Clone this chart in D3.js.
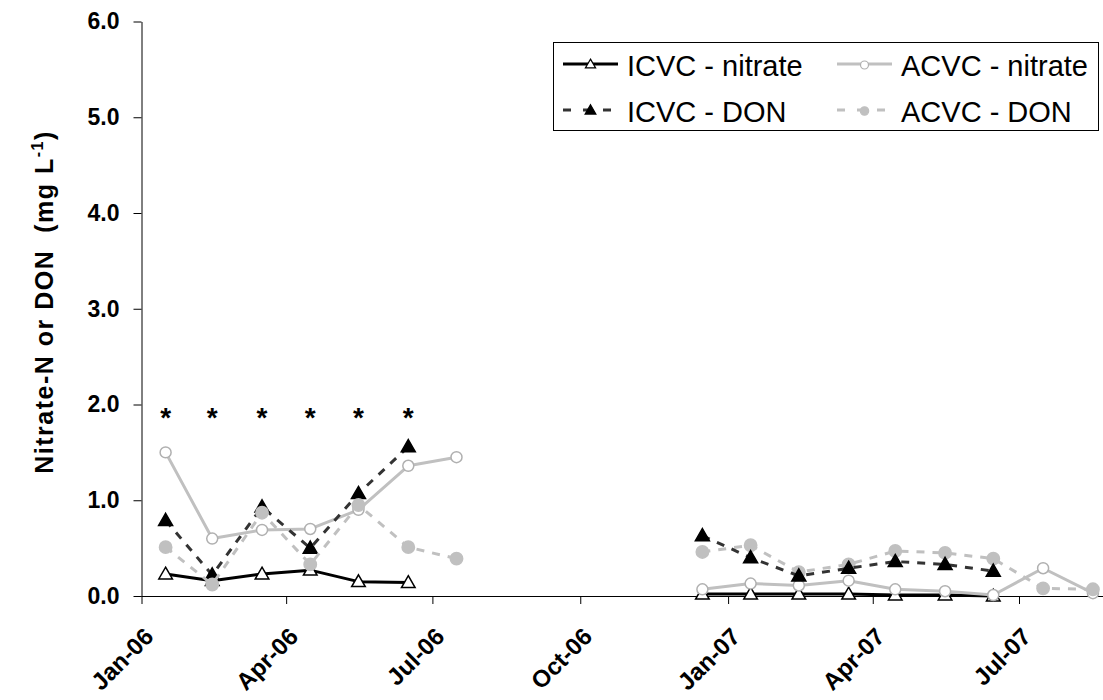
<!DOCTYPE html>
<html><head><meta charset="utf-8">
<script src="https://cdn.jsdelivr.net/npm/d3@7"></script>
<style>
  html,body{margin:0;padding:0;background:#fff;}
  svg{display:block;font-family:"Liberation Sans",Arial,sans-serif;}
</style></head>
<body>
<svg id="chart" width="1103" height="700"></svg>
<script>
// ---- data ----
const dates2006 = ["2006-01-16","2006-02-14","2006-03-17","2006-04-16","2006-05-16","2006-06-16","2006-07-16"];
const dates2007 = ["2006-12-16","2007-01-15","2007-02-14","2007-03-17","2007-04-15","2007-05-16","2007-06-15","2007-07-16","2007-08-16"];
const icvcNitrate2006 = [0.23,0.16,0.23,0.27,0.15,0.14,null];
const acvcNitrate2006 = [1.50,0.60,0.69,0.70,0.90,1.36,1.45];
const icvcDon2006     = [0.79,0.22,0.93,0.50,1.07,1.56,null];
const acvcDon2006     = [0.51,0.12,0.87,0.33,0.95,0.51,0.39];
const icvcNitrate2007 = [0.02,0.02,0.02,0.02,0.01,0.01,0.00,null,null];
const acvcNitrate2007 = [0.07,0.13,0.11,0.16,0.07,0.05,0.01,0.29,0.03];
const icvcDon2007     = [0.63,0.40,0.21,0.29,0.36,0.33,0.26,null,null];
const acvcDon2007     = [0.46,0.53,0.25,0.33,0.47,0.45,0.39,0.08,0.07];
const significance = [1.93,1.93,1.93,1.93,1.93,1.93,null]; // asterisk markers (2006 dates)
const yTicks = [0,1,2,3,4,5,6];
const xTickLabels = ["2006-01-01","2006-04-01","2006-07-01","2006-10-01","2007-01-01","2007-04-01","2007-07-01"];
const seriesNames = ["ICVC - nitrate","ACVC - nitrate","ICVC - DON","ACVC - DON"];

// ---- setup ----
const parse = d3.timeParse("%Y-%m-%d");
const svg = d3.select("#chart");
const x = d3.scaleTime().domain([parse("2006-01-01"), parse("2007-07-01")]).range([141.5, 1019]);
const y = d3.scaleLinear().domain([0, 6]).range([596, 21.5]);

const styles = {
  "ICVC - nitrate": {stroke:"#000", width:3, dash:null, marker:"tri", fill:"#fff", mstroke:"#000", size:80, lsize:45},
  "ACVC - nitrate": {stroke:"#c0c0c0", width:3, dash:null, marker:"circle", fill:"#fff", mstroke:"#b0b0b0", size:95, lsize:50},
  "ICVC - DON":     {stroke:"#333", width:3, dash:"8,8", marker:"tri", fill:"#000", mstroke:"#000", size:85, lsize:50},
  "ACVC - DON":     {stroke:"#c0c0c0", width:3, dash:"8,8", marker:"circle", fill:"#c0c0c0", mstroke:"#c0c0c0", size:120, lsize:55}
};

function symbolFor(st, size){
  return d3.symbol().type(st.marker === "tri" ? d3.symbolTriangle : d3.symbolCircle).size(size)();
}

// ---- axes ----
const gy = svg.append("g")
  .call(d3.axisLeft(y).tickValues(yTicks).tickFormat(d3.format(".1f")).tickSize(8).tickSizeOuter(0).tickPadding(14));
gy.attr("transform","translate(141.5,0)");
gy.select(".domain").attr("stroke","#000").attr("stroke-width",1);
gy.selectAll(".tick line").attr("stroke","#000");
gy.selectAll(".tick text").attr("font-size",23).attr("font-weight","bold").attr("fill","#000")
  .attr("font-family","'Liberation Sans',Arial,sans-serif");

const gx = svg.append("g").attr("transform","translate(0,596)")
  .call(d3.axisBottom(x).tickValues(xTickLabels.map(parse)).tickFormat(d3.timeFormat("%b-%y")).tickSize(8).tickSizeOuter(0));
gx.select(".domain").remove();
gx.append("line").attr("x1",141.5).attr("x2",1103).attr("y1",0.5).attr("y2",0.5).attr("stroke","#000");
gx.selectAll(".tick line").attr("stroke","#000");
gx.selectAll(".tick text")
  .attr("font-size",24).attr("font-weight","bold").attr("fill","#000")
  .attr("font-family","'Liberation Sans',Arial,sans-serif")
  .attr("text-anchor","end").attr("x",null).attr("y",null).attr("dy",null)
  .attr("transform","translate(13,42) rotate(-45)");

// ---- y title ----
const title = svg.append("text")
  .attr("transform","translate(53,302) rotate(-90)")
  .attr("text-anchor","middle").attr("font-weight","bold").attr("font-size",25)
  .attr("letter-spacing",1.5)
  .style("white-space","pre");
title.append("tspan").text("Nitrate-N or DON  (mg L");
title.append("tspan").attr("font-size",16).attr("dy",-10).text("-1");
title.append("tspan").attr("dy",10).text(")");

// ---- series ----
function drawPeriod(dateStrs, seriesList){
  const dts = dateStrs.map(parse);
  seriesList.forEach(([name, vals]) => {
    const st = styles[name];
    const pts = dts.map((d,i)=>({d, v: vals[i]}));
    const line = d3.line().defined(p => p.v != null).x(p => x(p.d)).y(p => y(p.v));
    const g = svg.append("g");
    g.append("path").attr("d", line(pts)).attr("fill","none")
      .attr("stroke", st.stroke).attr("stroke-width", st.width)
      .attr("stroke-dasharray", st.dash).attr("stroke-linejoin","round");
    g.selectAll("path.m").data(pts.filter(p => p.v != null)).join("path").attr("class","m")
      .attr("d", symbolFor(st, st.size))
      .attr("transform", p => `translate(${x(p.d)},${y(p.v) + (st.marker==="tri"?1:0)})`)
      .attr("fill", st.fill).attr("stroke", st.mstroke).attr("stroke-width", 1.5);
  });
}
drawPeriod(dates2006, [["ICVC - nitrate", icvcNitrate2006],["ACVC - nitrate", acvcNitrate2006],["ICVC - DON", icvcDon2006],["ACVC - DON", acvcDon2006]]);
drawPeriod(dates2007, [["ICVC - nitrate", icvcNitrate2007],["ACVC - nitrate", acvcNitrate2007],["ACVC - DON", acvcDon2007],["ICVC - DON", icvcDon2007]]);

// ---- asterisks ----
svg.append("g").selectAll("text").data(dates2006.map((d,i)=>({d:parse(d), v:significance[i]})).filter(p=>p.v!=null))
  .join("text").attr("x", p => x(p.d)).attr("y", p => y(p.v) + 16)
  .attr("text-anchor","middle").attr("font-weight","bold").attr("font-size",28).text("*");

// ---- legend ----
const lg = svg.append("g");
lg.append("rect").attr("x",553.5).attr("y",42.5).attr("width",545).attr("height",88)
  .attr("fill","#fff").attr("stroke","#000").attr("stroke-width",1);
const legendPos = [
  {name:seriesNames[0], x:563, y:64},
  {name:seriesNames[1], x:837, y:64},
  {name:seriesNames[2], x:563, y:110},
  {name:seriesNames[3], x:837, y:110}
];
legendPos.forEach(p => {
  const st = styles[p.name];
  lg.append("line").attr("x1",p.x).attr("x2",p.x+55).attr("y1",p.y).attr("y2",p.y)
    .attr("stroke",st.stroke).attr("stroke-width",3)
    .attr("stroke-dasharray", st.dash ? "8,12" : null);
  lg.append("path").attr("d", symbolFor(st, st.lsize))
    .attr("transform",`translate(${p.x+27.5},${p.y+1})`)
    .attr("fill",st.fill).attr("stroke",st.mstroke).attr("stroke-width",1.2);
  lg.append("text").attr("x",p.x+64).attr("y",p.y+12).attr("font-size",29).attr("fill","#000").text(p.name);
});
</script>
</body></html>
